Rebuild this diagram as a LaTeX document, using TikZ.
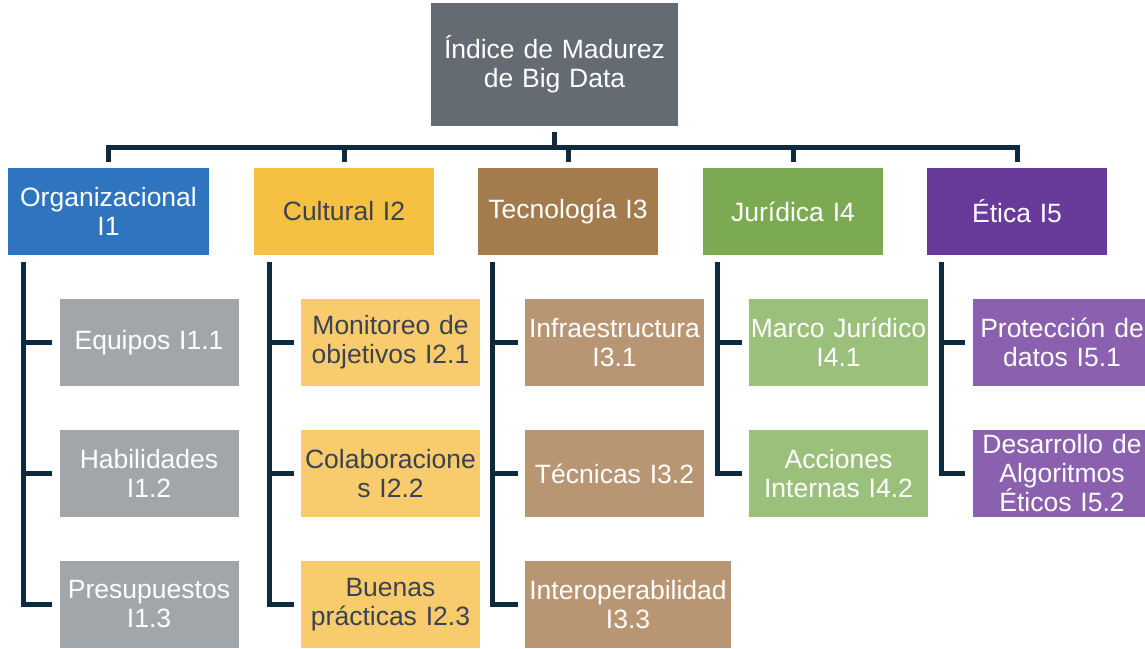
\documentclass[tikz,border=0pt]{standalone}
\usepackage{fontspec}
\setmainfont{Liberation Sans}
\usetikzlibrary{positioning, calc}

\definecolor{topgray}{HTML}{646B73}
\definecolor{orgblue}{HTML}{2E74BE}
\definecolor{cultyellow}{HTML}{F6C143}
\definecolor{tecbrown}{HTML}{A37B4C}
\definecolor{jurgreen}{HTML}{7BAA53}
\definecolor{etipurple}{HTML}{683A99}
\definecolor{orglight}{HTML}{A1A6AB}
\definecolor{cultlight}{HTML}{F8CC6C}
\definecolor{teclight}{HTML}{B99673}
\definecolor{jurlight}{HTML}{9BC07C}
\definecolor{etilight}{HTML}{8B61AF}
\definecolor{darktext}{HTML}{3B4250}
\definecolor{lineblue}{HTML}{0E2A3E}

\begin{document}
\begin{tikzpicture}[x=1pt, y=1pt, node distance=131pt]
        \tikzstyle{box} = [rectangle, inner sep=0pt, minimum height=87pt, align=center, text=white, font=\fontsize{26.5}{29}\selectfont]
        \tikzstyle{category} = [box, text width=180pt]
        \tikzstyle{item} = [box, text width=179pt]
        \tikzstyle{link} = [draw=lineblue, line width=5pt]
        \useasboundingbox (0,0) rectangle (1145,648);

        \node[box, fill=topgray, text width=247pt, minimum height=123pt] (index) at (554.5,583.5) {Índice de Madurez\\de Big Data};

        \node[category, fill=tecbrown, below of=index, xshift=13.5pt, yshift=-16pt] (tec) {Tecnología I3};
        \node[category, fill=cultyellow, text=darktext, left of=tec, xshift=-93pt] (cult) {Cultural I2};
        \node[category, fill=orgblue, text width=201pt, left of=cult, xshift=-104.5pt] (org) {Organizacional\\I1};
        \node[category, fill=jurgreen, right of=tec, xshift=94pt] (jur) {Jurídica I4};
        \node[category, fill=etipurple, right of=jur, xshift=93pt] (eti) {Ética I5};

        \node[item, fill=orglight, below of=org, xshift=40.5pt] (org1) {Equipos I1.1};
        \node[item, fill=orglight, below of=org1] (org2) {Habilidades\\I1.2};
        \node[item, fill=orglight, below of=org2] (org3) {Presupuestos\\I1.3};

        \node[item, fill=cultlight, text=darktext, below of=cult, xshift=46.5pt] (cult1) {Monitoreo de\\objetivos I2.1};
        \node[item, fill=cultlight, text=darktext, below of=cult1] (cult2) {Colaboracione\\s I2.2};
        \node[item, fill=cultlight, text=darktext, below of=cult2] (cult3) {Buenas\\prácticas I2.3};

        \node[item, fill=teclight, below of=tec, xshift=46.5pt] (tec1) {Infraestructura\\I3.1};
        \node[item, fill=teclight, below of=tec1] (tec2) {Técnicas I3.2};
        \node[item, fill=teclight, text width=206pt, below of=tec2, xshift=13.5pt] (tec3) {Interoperabilidad\\I3.3};

        \node[item, fill=jurlight, below of=jur, xshift=45.5pt] (jur1) {Marco Jurídico\\I4.1};
        \node[item, fill=jurlight, below of=jur1] (jur2) {Acciones\\Internas I4.2};

        \node[item, fill=etilight, below of=eti, xshift=45pt] (eti1) {Protección de\\datos I5.1};
        \node[item, fill=etilight, below of=eti1] (eti2) {Desarrollo de\\Algoritmos\\Éticos I5.2};

        %index-categories
        \coordinate (bus) at ([yshift=-21pt]index.south);
        \draw[link] ([yshift=-6pt]index.south) -- (bus);
        \draw[link] ([yshift=6pt]org.north) |- (bus) -| ([yshift=6pt]eti.north);
        \draw[link] ([yshift=6pt]cult.north) -- (cult.north |- bus);
        \draw[link] ([yshift=6pt]tec.north) -- (tec.north |- bus);
        \draw[link] ([yshift=6pt]jur.north) -- (jur.north |- bus);

        %org-items
        \coordinate (orgspine) at ([xshift=16pt, yshift=-7pt]org.south west);
        \draw[link] (orgspine) |- ([xshift=-7pt]org3.west);
        \draw[link] ([xshift=-7pt]org1.west) -- (org1.west -| orgspine);
        \draw[link] ([xshift=-7pt]org2.west) -- (org2.west -| orgspine);

        %cult-items
        \coordinate (cultspine) at ([xshift=16pt, yshift=-7pt]cult.south west);
        \draw[link] (cultspine) |- ([xshift=-7pt]cult3.west);
        \draw[link] ([xshift=-7pt]cult1.west) -- (cult1.west -| cultspine);
        \draw[link] ([xshift=-7pt]cult2.west) -- (cult2.west -| cultspine);

        %tec-items
        \coordinate (tecspine) at ([xshift=15pt, yshift=-7pt]tec.south west);
        \draw[link] (tecspine) |- ([xshift=-7pt]tec3.west);
        \draw[link] ([xshift=-7pt]tec1.west) -- (tec1.west -| tecspine);
        \draw[link] ([xshift=-7pt]tec2.west) -- (tec2.west -| tecspine);

        %jur-items
        \coordinate (jurspine) at ([xshift=15pt, yshift=-7pt]jur.south west);
        \draw[link] (jurspine) |- ([xshift=-7pt]jur2.west);
        \draw[link] ([xshift=-7pt]jur1.west) -- (jur1.west -| jurspine);

        %eti-items
        \coordinate (etispine) at ([xshift=15pt, yshift=-7pt]eti.south west);
        \draw[link] (etispine) |- ([xshift=-7pt]eti2.west);
        \draw[link] ([xshift=-7pt]eti1.west) -- (eti1.west -| etispine);
    \end{tikzpicture}
\end{document}
